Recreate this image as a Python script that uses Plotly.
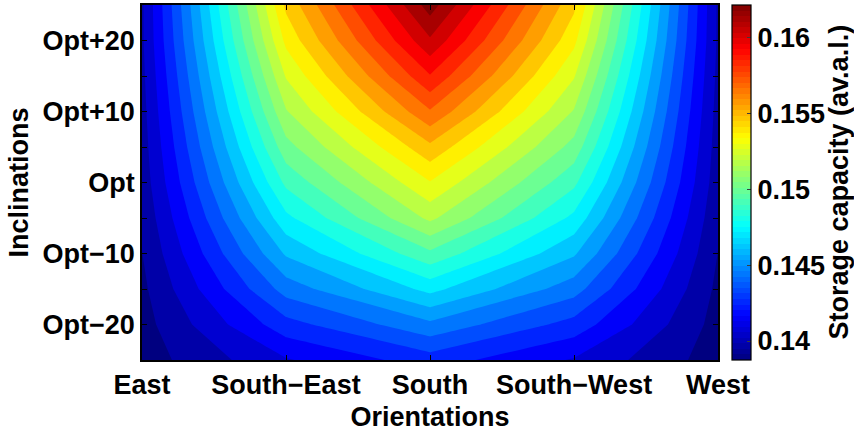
import numpy as np
import plotly.graph_objects as go

# Orientation (azimuth, deg from South) and inclination offsets from the optimum (deg)
orientation_deg = [-90, -45, 0, 45, 90]
orientation_labels = ["East", "South\u2212East", "South", "South\u2212West", "West"]
inclination_deg = [-25, -20, -15, -10, -5, 0, 5, 10, 15, 20, 25]
inclination_ticks = [-20, -15, -10, -5, 0, 5, 10, 15, 20]
inclination_labels = ["Opt\u221220", "", "Opt\u221210", "", "Opt", "", "Opt+10", "", "Opt+20"]

# Storage capacity (av.a.l.) per orientation, listed from Opt-25 to Opt+25
east = [0.13875, 0.13885, 0.1390, 0.1392, 0.1394, 0.1396, 0.1397, 0.1398, 0.1399, 0.1400, 0.1400]
south_east = [0.1410, 0.1426, 0.1443, 0.1459, 0.1474, 0.1488, 0.1501, 0.1513, 0.1524, 0.1535, 0.1544]
south = [0.1425, 0.1446, 0.1470, 0.1493, 0.1516, 0.1532, 0.1549, 0.1569, 0.1588, 0.1606, 0.16214]
south_west = [0.1410, 0.1426, 0.1443, 0.1459, 0.1474, 0.1488, 0.1501, 0.1513, 0.1524, 0.1535, 0.1544]
west = [0.13875, 0.13885, 0.1390, 0.1392, 0.1394, 0.1396, 0.1397, 0.1398, 0.1399, 0.1400, 0.1400]

colorbar_ticks = [0.14, 0.145, 0.15, 0.155, 0.16]
colorbar_ticktext = ["0.14", "0.145", "0.15", "0.155", "0.16"]

z = np.column_stack([east, south_east, south, south_west, west])


def jet_rgb(t):
    """MATLAB jet colour at position t in [0, 1]."""
    r = np.clip(1.5 - abs(4 * t - 3), 0, 1)
    g = np.clip(1.5 - abs(4 * t - 2), 0, 1)
    b = np.clip(1.5 - abs(4 * t - 1), 0, 1)
    return "rgb(%d,%d,%d)" % (round(r * 255), round(g * 255), round(b * 255))


# smooth jet for the filled contours
jet = [[i / 64, jet_rgb(i / 64)] for i in range(65)]

# 64-step jet for the colour bar
jet64 = []
for i in range(64):
    c = jet_rgb((i + 0.5) / 64)
    jet64.append([i / 64, c])
    jet64.append([(i + 1) / 64, c])

zlo, zhi = float(z.min()), float(z.max())
n_levels = 25
step = (zhi - zlo) / n_levels
start = zlo + step / 2
end = start + (n_levels - 1) * step

font = dict(family="Liberation Sans", size=27, color="black", weight="bold")

# plot area in pixels: x 142..718, y 5..360
plot_w = 576.0

fig = go.Figure()
fig.add_trace(
    go.Contour(
        x=orientation_deg,
        y=inclination_deg,
        z=z,
        colorscale=jet,
        contours=dict(coloring="fill", start=start, end=end, size=step, showlines=False),
        line=dict(width=0, smoothing=0),
        showscale=False,
        hoverinfo="skip",
    )
)

# colour bar carrier (no visible marks)
fig.add_trace(
    go.Scatter(
        x=[None],
        y=[None],
        mode="markers",
        showlegend=False,
        hoverinfo="skip",
        marker=dict(
            color=[zlo],
            cmin=zlo,
            cmax=zhi,
            colorscale=jet64,
            showscale=True,
            colorbar=dict(
                x=(732 - 142) / plot_w,
                xanchor="left",
                xpad=0,
                ypad=0,
                y=0.5,
                yanchor="middle",
                len=1.0,
                thickness=19,
                outlinewidth=1.2,
                outlinecolor="black",
                ticks="inside",
                ticklen=4,
                tickwidth=1,
                tickcolor="rgb(60,60,60)",
                tickvals=colorbar_ticks,
                ticktext=colorbar_ticktext,
                tickfont=font,
            ),
        ),
    )
)

axis_common = dict(
    showgrid=False,
    zeroline=False,
    showline=True,
    linecolor="black",
    linewidth=1.5,
    mirror="allticks",
    ticks="inside",
    ticklen=5,
    tickwidth=1,
    tickcolor="black",
    tickfont=font,
)

fig.update_xaxes(
    range=[-90, 90],
    tickvals=orientation_deg,
    ticktext=orientation_labels,
    title=dict(text="Orientations", font=font, standoff=8),
    **axis_common,
)
fig.update_yaxes(
    range=[-25, 25],
    tickvals=inclination_ticks,
    ticktext=inclination_labels,
    title=dict(text="Inclinations", font=font, standoff=6),
    **axis_common,
)

# colorbar title, vertical, to the right of the tick labels
fig.add_annotation(
    text="Storage capacity (av.a.l.)",
    xref="paper",
    yref="paper",
    x=(838 - 142) / plot_w,
    y=0.5,
    xanchor="center",
    yanchor="middle",
    textangle=-90,
    showarrow=False,
    font=font,
)

fig.update_layout(
    width=854,
    height=436,
    margin=dict(l=142, r=136, t=5, b=76, autoexpand=False),
    paper_bgcolor="white",
    plot_bgcolor="white",
    font=font,
    showlegend=False,
)

fig.write_html("out.html")
